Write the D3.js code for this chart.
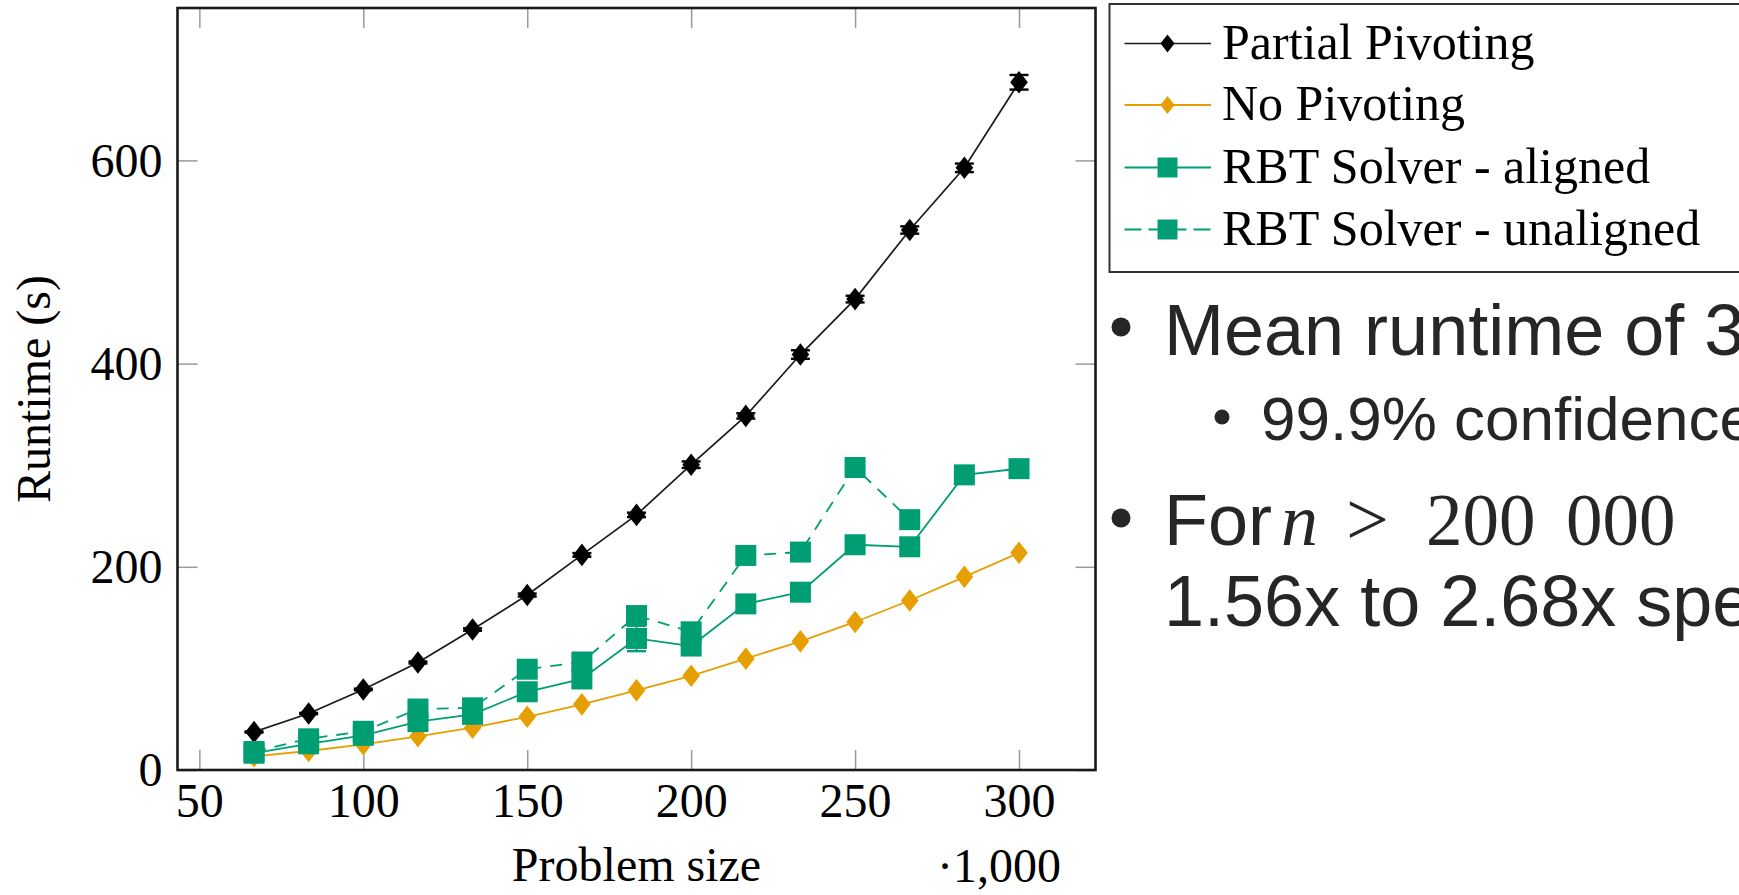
<!DOCTYPE html>
<html><head><meta charset="utf-8">
<script src="https://cdn.jsdelivr.net/npm/d3@7"></script>
<style>html,body{margin:0;padding:0;background:#fff;overflow:hidden}</style>
</head><body>
<svg id="c" width="1739" height="895" xmlns="http://www.w3.org/2000/svg"></svg>
<script>
// ---- data (problem size in thousands, runtime in seconds) ----
const problemSize = [66.67, 83.33, 100, 116.67, 133.33, 150, 166.67, 183.33, 200, 216.67, 233.33, 250, 266.67, 283.33, 300];
const partialPivoting = [37.4, 55.6, 79.3, 105.8, 138.3, 172.2, 211.7, 251.1, 300.5, 348.5, 408.9, 463.5, 531.5, 592.7, 676.9];
const partialPivotingErr = [0.5, 0.6, 0.8, 1, 1.2, 1.5, 1.8, 2.2, 3.2, 2.6, 4.2, 3.3, 3.6, 4.2, 7.2];
const noPivoting = [13.5, 18.7, 25.3, 33.2, 41.6, 52.4, 64.6, 78.4, 92.7, 109.6, 126.6, 145.7, 166.8, 190.1, 213.8];
const rbtAligned = [16.5, 25.8, 34.1, 47.6, 54.8, 77.0, 89.6, 129.5, 122.0, 163.5, 175.0, 221.7, 219.7, 290.5, 296.6];
const rbtAlignedErr = [0.5, 0.5, 0.6, 0.8, 0.8, 1, 1.2, 12.5, 2, 1.5, 1.5, 2, 2, 2, 2];
const rbtUnaligned = [18.2, 30.7, 38.1, 60.0, 61.2, 99.2, 106.3, 152.0, 136.0, 211.2, 214.5, 297.7, 246.4];
const xTicks = [50, 100, 150, 200, 250, 300];
const yTicks = [0, 200, 400, 600];
const legendLabels = ["Partial Pivoting", "No Pivoting", "RBT Solver - aligned", "RBT Solver - unaligned"];
const xLabel = "Problem size";
const xScaleLabel = "\u00B71,000";
const yLabel = "Runtime (s)";

// ---- setup ----
const svg = d3.select("#c");
svg.append("rect").attr("width", 1739).attr("height", 895).attr("fill", "#fff");
const L = 177.5, R = 1095.5, T = 8, B = 770;
const x = d3.scaleLinear().domain([43.33, 323.33]).range([L, R]);
const y = d3.scaleLinear().domain([0, 750]).range([B, T]);
const serif = "'Liberation Serif', 'Times New Roman', serif";
const sans = "'Liberation Sans', Arial, sans-serif";
const BLACK = "#000", ORANGE = "#E69F00", GREEN = "#009E73";

const series = [
  {name: legendLabels[0], vals: partialPivoting, err: partialPivotingErr, color: BLACK, line: "#1a1a1a", mark: "diamond", dash: null, lw: 1.7},
  {name: legendLabels[1], vals: noPivoting, err: null, color: ORANGE, line: ORANGE, mark: "diamond", dash: null, lw: 1.8},
  {name: legendLabels[2], vals: rbtAligned, err: rbtAlignedErr, color: GREEN, line: GREEN, mark: "square", dash: null, lw: 1.8},
  {name: legendLabels[3], vals: rbtUnaligned, err: null, color: GREEN, line: GREEN, mark: "square", dash: "12,9", lw: 1.8}
];

function diamondPath(hw, hh) { return `M0,${-hh}L${hw},0L0,${hh}L${-hw},0Z`; }
function drawMark(g, type, color, s) {
  if (type === "diamond") {
    g.append("path").attr("d", diamondPath(8.8 * s, 11.3 * s)).attr("fill", color);
  } else {
    const h = 10.5 * s;
    g.append("rect").attr("x", -h).attr("y", -h).attr("width", 2 * h).attr("height", 2 * h).attr("fill", color);
  }
}

// ---- axes (ticks inward, grey) ----
const tickColor = "#9a9a9a";
function styleAxis(g) {
  g.select(".domain").remove();
  g.selectAll(".tick line").attr("stroke", tickColor).attr("stroke-width", 1.5);
}
const gx = svg.append("g").attr("transform", `translate(0,${B})`)
  .call(d3.axisBottom(x).tickValues(xTicks).tickSize(-20).tickPadding(14).tickFormat(d3.format("d")));
styleAxis(gx);
gx.selectAll(".tick text").attr("font-family", serif).attr("font-size", 48).attr("fill", "#000").attr("dy", null).attr("y", 47);
const gxt = svg.append("g").attr("transform", `translate(0,${T})`)
  .call(d3.axisTop(x).tickValues(xTicks).tickSize(-20).tickFormat(""));
styleAxis(gxt);
const gy = svg.append("g").attr("transform", `translate(${L},0)`)
  .call(d3.axisLeft(y).tickValues(yTicks).tickSize(-20).tickPadding(15).tickFormat(d3.format("d")));
styleAxis(gy);
gy.selectAll(".tick text").attr("font-family", serif).attr("font-size", 48).attr("fill", "#000").attr("dy", "0.33em");
const gyr = svg.append("g").attr("transform", `translate(${R},0)`)
  .call(d3.axisRight(y).tickValues(yTicks).tickSize(-20).tickFormat(""));
styleAxis(gyr);

// ---- series ----
const plot = svg.append("g");
series.forEach(s => {
  const pts = s.vals.map((v, i) => [problemSize[i], v]);
  const line = d3.line().x(d => x(d[0])).y(d => y(d[1]));
  plot.append("path").datum(pts).attr("d", line).attr("fill", "none")
    .attr("stroke", s.line).attr("stroke-width", s.lw).attr("stroke-dasharray", s.dash);
  pts.forEach((p, i) => {
    const g = plot.append("g").attr("transform", `translate(${x(p[0])},${y(p[1])})`);
    drawMark(g, s.mark, s.color, 1);
    if (s.err) {
      const e = s.err[i];
      const y0 = y(p[1] - e) - y(p[1]), y1 = y(p[1] + e) - y(p[1]);
      g.append("line").attr("x1", 0).attr("x2", 0).attr("y1", y0).attr("y2", y1).attr("stroke", s.color).attr("stroke-width", 1.6);
      [y0, y1].forEach(yy => g.append("line").attr("x1", -9.5).attr("x2", 9.5).attr("y1", yy).attr("y2", yy)
        .attr("stroke", s.color).attr("stroke-width", 2.4));
    }
  });
});

// ---- frame ----
svg.append("rect").attr("x", L).attr("y", T).attr("width", R - L).attr("height", B - T)
  .attr("fill", "none").attr("stroke", "#1a1a1a").attr("stroke-width", 2.6);

// ---- axis labels ----
svg.append("text").attr("x", (L + R) / 2).attr("y", 881).attr("text-anchor", "middle")
  .attr("font-family", serif).attr("font-size", 48).text(xLabel);
svg.append("text").attr("x", 1061).attr("y", 882).attr("text-anchor", "end")
  .attr("font-family", serif).attr("font-size", 48).text(xScaleLabel);
svg.append("text").attr("transform", `translate(50,${(T + B) / 2}) rotate(-90)`).attr("text-anchor", "middle")
  .attr("font-family", serif).attr("font-size", 48).text(yLabel);

// ---- legend ----
const leg = svg.append("g");
leg.append("rect").attr("x", 1109.5).attr("y", 4).attr("width", 700).attr("height", 268)
  .attr("fill", "#fff").attr("stroke", "#333").attr("stroke-width", 2);
const rowY = [43.5, 105, 167.5, 229.5];
series.forEach((s, i) => {
  const yy = rowY[i];
  leg.append("line").attr("x1", 1124.5).attr("x2", 1211).attr("y1", yy).attr("y2", yy)
    .attr("stroke", s.line).attr("stroke-width", s.lw).attr("stroke-dasharray", s.dash ? "17,7,38,7,17" : null);
  const g = leg.append("g").attr("transform", `translate(1167.5,${yy})`);
  drawMark(g, s.mark, s.color, s.mark === "diamond" ? 0.8 : 0.95);
  leg.append("text").attr("x", 1222).attr("y", yy + 15).attr("font-family", serif).attr("font-size", 50)
    .attr("fill", "#000").text(s.name);
});

// ---- slide text ----
const txt = svg.append("g").attr("fill", "#262626");
txt.append("circle").attr("cx", 1121).attr("cy", 327).attr("r", 9.5);
txt.append("text").attr("x", 1164).attr("y", 355).attr("font-family", sans).attr("font-size", 72).text("Mean runtime of 3");
txt.append("circle").attr("cx", 1222).attr("cy", 417).attr("r", 7.5);
txt.append("text").attr("x", 1261).attr("y", 440).attr("font-family", sans).attr("font-size", 62).text("99.9% confidence");
txt.append("circle").attr("cx", 1121).attr("cy", 518).attr("r", 9.5);
const t3 = txt.append("text").attr("y", 545).attr("font-size", 72);
t3.append("tspan").attr("x", 1164).attr("font-family", sans).text("For");
t3.append("tspan").attr("x", 1281).attr("font-family", serif).attr("font-style", "italic").attr("font-size", 74).text("n");
t3.append("tspan").attr("x", 1346).attr("font-family", serif).attr("font-size", 76).text(">");
t3.append("tspan").attr("x", 1426).attr("font-family", serif).attr("font-size", 73).text("200");
t3.append("tspan").attr("x", 1566).attr("font-family", serif).attr("font-size", 73).text("000");
txt.append("text").attr("x", 1164).attr("y", 626).attr("font-family", sans).attr("font-size", 72).text("1.56x to 2.68x spe");
</script>
</body></html>
